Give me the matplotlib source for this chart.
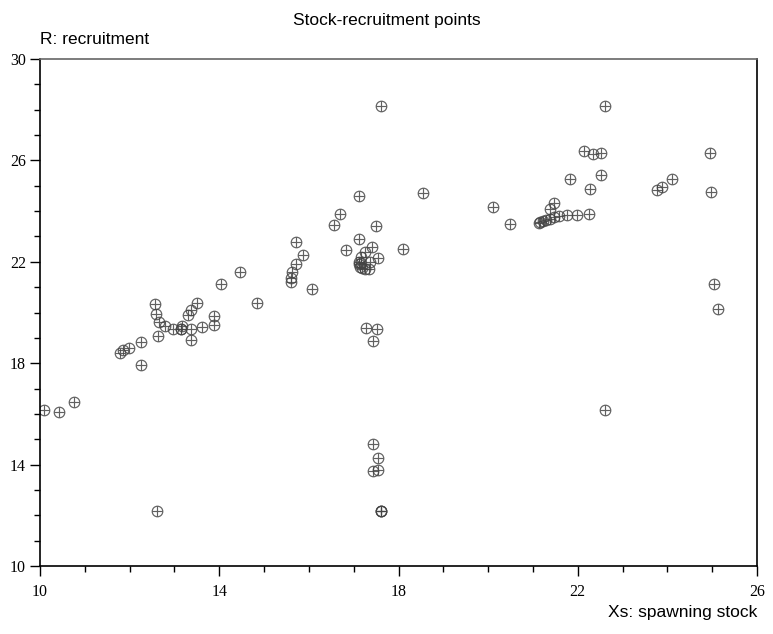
import numpy as np
import matplotlib
matplotlib.use("Agg")
import matplotlib.pyplot as plt
from matplotlib.ticker import MultipleLocator

# spawning stock (x) and recruitment (y)
xs = [10.09, 10.42, 10.76, 12.60, 17.60, 17.60, 17.60, 17.43, 17.54, 17.43, 17.54,
      17.28, 17.52, 17.43, 11.79, 11.86, 11.99, 12.25, 12.26, 12.63, 12.59, 12.57,
      12.66, 12.78, 12.96, 13.15, 13.15, 13.17, 13.38, 13.38, 13.30, 13.36, 13.50,
      13.62, 13.88, 13.89, 14.84, 17.60, 17.11, 16.69, 16.57, 17.49, 17.11, 15.71,
      15.86, 17.41, 16.82, 18.10, 17.26, 17.16, 17.54, 15.71, 17.37, 17.11, 17.11,
      17.13, 17.19, 17.25, 17.35, 17.16, 15.62, 15.60, 15.60, 14.46, 14.04, 16.06,
      22.60, 22.14, 22.34, 22.51, 24.95, 21.82, 22.51, 24.11, 23.88, 23.77, 24.97,
      22.27, 18.54, 20.10, 20.48, 21.46, 21.38, 22.26, 21.99, 21.76, 21.59, 21.46,
      21.37, 21.29, 21.22, 21.16, 21.13, 25.04, 25.12, 22.60]
rs = [16.17, 16.09, 16.48, 12.18, 12.18, 12.18, 12.18, 14.82, 14.27, 13.76, 13.80,
      19.40, 19.36, 18.89, 18.42, 18.51, 18.61, 18.85, 17.94, 19.08, 19.94, 20.35,
      19.63, 19.48, 19.35, 19.35, 19.35, 19.46, 19.35, 18.92, 19.91, 20.11, 20.39,
      19.44, 19.51, 19.86, 20.39, 28.16, 24.61, 23.90, 23.45, 23.41, 22.91, 22.79,
      22.28, 22.60, 22.48, 22.51, 22.40, 22.20, 22.16, 21.93, 22.00, 22.00, 21.90,
      21.81, 21.74, 21.72, 21.72, 21.96, 21.61, 21.35, 21.19, 21.61, 21.14, 20.94,
      28.16, 26.38, 26.26, 26.30, 26.30, 25.28, 25.44, 25.25, 24.96, 24.84, 24.77,
      24.88, 24.73, 24.18, 23.50, 24.33, 24.10, 23.89, 23.85, 23.84, 23.81, 23.76,
      23.70, 23.65, 23.61, 23.57, 23.53, 21.14, 20.15, 16.15]

x_major = [10, 14, 18, 22, 26]
y_major = [10, 14, 18, 22, 26, 30]

MARK = "#444444"

fig = plt.figure(figsize=(7.73, 6.34), dpi=100)
ax = fig.add_axes([40 / 773, 1 - 566 / 634, 717 / 773, 507 / 634])

ax.plot(xs, rs, ls="none", marker="o", ms=7.6, mfc="none", mec=MARK, mew=0.85, alpha=0.85)
ax.plot(xs, rs, ls="none", marker="+", ms=7.6, mec=MARK, mew=0.85, alpha=0.85)

ax.set_xlim(10, 26)
ax.set_ylim(10, 30)
ax.set_xticks(x_major)
ax.set_yticks(y_major)
ax.xaxis.set_minor_locator(MultipleLocator(1))
ax.yaxis.set_minor_locator(MultipleLocator(1))
ax.tick_params(which="major", direction="out", length=7, width=1, labelsize=11.5)
ax.tick_params(which="minor", direction="out", length=4, width=1)
for lab in ax.get_xticklabels() + ax.get_yticklabels():
    lab.set_family("Liberation Serif")
ax.tick_params(axis="x", pad=6)
ax.tick_params(axis="y", pad=3)

for sp in ("left", "bottom", "right"):
    ax.spines[sp].set_linewidth(1.2)
    ax.spines[sp].set_color("black")
ax.spines["top"].set_color("#666666")
ax.spines["top"].set_linewidth(1.2)

fig.text(387 / 773, 1 - 20 / 634, "Stock-recruitment points", ha="center", va="center",
         family="Liberation Sans", fontsize=12.5)
fig.text(40 / 773, 1 - 40 / 634, "R: recruitment", ha="left", va="center",
         family="Liberation Sans", fontsize=12.5)
fig.text(757 / 773, 1 - 612 / 634, "Xs: spawning stock", ha="right", va="center",
         family="Liberation Sans", fontsize=12.5)

fig.savefig("out.png", dpi=100)
